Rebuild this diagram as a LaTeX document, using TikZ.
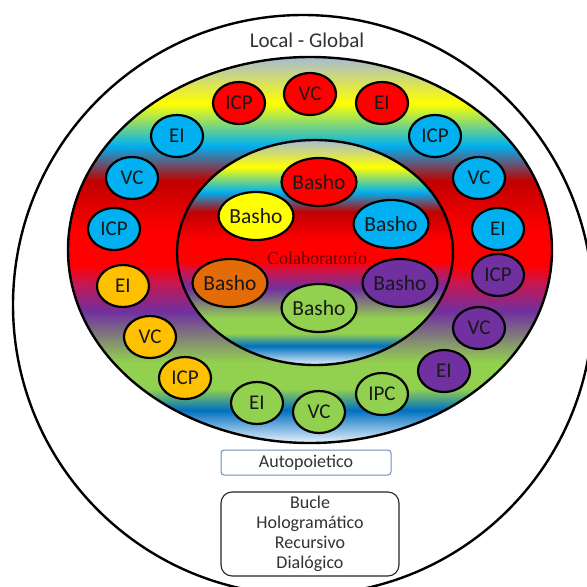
\documentclass[tikz,border=0pt]{standalone}
\usepackage{fontspec}
\setmainfont{Carlito}
\newfontfamily\colabfont{Liberation Serif}
\usetikzlibrary{shapes.geometric}
\definecolor{gTop}{RGB}{166,187,214}
\definecolor{gYel}{RGB}{255,255,0}
\definecolor{gCya}{RGB}{0,176,240}
\definecolor{gDkR}{RGB}{192,0,0}
\definecolor{gRed}{RGB}{255,0,0}
\definecolor{gCri}{RGB}{205,20,75}
\definecolor{gPur}{RGB}{112,48,160}
\definecolor{gGrn}{RGB}{146,208,80}
\definecolor{gBlu}{RGB}{0,112,192}
\definecolor{gWht}{RGB}{235,242,250}
\definecolor{cR}{RGB}{255,0,0}
\definecolor{cB}{RGB}{0,176,240}
\definecolor{cO}{RGB}{255,192,0}
\definecolor{cG}{RGB}{146,208,80}
\definecolor{cP}{RGB}{112,48,160}
\definecolor{cY}{RGB}{255,255,0}
\definecolor{cOr}{RGB}{227,108,9}
\definecolor{txtgray}{RGB}{50,50,50}
\definecolor{boxblue}{RGB}{110,140,190}
\definecolor{colabred}{RGB}{110,0,15}
\pgfdeclareverticalshading{rainbowband}{100bp}{color(0bp)=(gWht); color(25bp)=(gWht); color(29.25bp)=(gBlu); color(32bp)=(gGrn); color(35.5bp)=(gGrn); color(42bp)=(gPur); color(46bp)=(gCri); color(48bp)=(gRed); color(52.5bp)=(gRed); color(59bp)=(gDkR); color(63.5bp)=(gCya); color(69bp)=(gYel); color(75bp)=(gTop); color(100bp)=(gTop)}
\tikzset{
  sm/.style={ellipse, draw=black, line width=2.2pt, minimum width=52pt, minimum height=42pt, inner sep=0pt, font=\fontsize{21}{23}\selectfont, text=black!90},
  bs/.style={ellipse, draw=black, line width=2.2pt, minimum width=70pt, minimum height=48pt, inner sep=0pt, font=\fontsize{21.5}{24}\selectfont, text=black!90},
  bigline/.style={draw=black, line width=2.4pt},
  labeltxt/.style={font=\fontsize{18}{20}\selectfont, text=txtgray, align=center}
}
\begin{document}
\begin{tikzpicture}[x=1pt,y=-1pt]
\useasboundingbox (0,0) rectangle (587,587);
\fill[white] (0,0) rectangle (587,587);
% outer circle
\draw[bigline] (303,305) circle [radius=290];
\node[font=\fontsize{21}{23}\selectfont, text=txtgray] (lg) at (307,40) {Local - Global};
% middle rainbow ellipse
\shadedraw[shading=rainbowband, bigline] (310,250) ellipse [x radius=242, y radius=193];
% inner ellipse
\shadedraw[shading=rainbowband, bigline] (315,252.5) ellipse [x radius=138, y radius=112.5];
% ring circles
\node[sm, fill=cR] (r1) at (239,103) {ICP};
\node[sm, fill=cR] (r2) at (310,94) {VC};
\node[sm, fill=cR] (r3) at (382,103) {EI};
\node[sm, fill=cB] (b1) at (177,136) {EI};
\node[sm, fill=cB] (b2) at (435,136) {ICP};
\node[sm, fill=cB] (b3) at (132,178) {VC};
\node[sm, fill=cB] (b4) at (479,178) {VC};
\node[sm, fill=cB] (b5) at (114,229) {ICP};
\node[sm, fill=cB] (b6) at (498,229) {EI};
\node[sm, fill=cO] (o1) at (123,286) {EI};
\node[sm, fill=cO] (o2) at (150,337) {VC};
\node[sm, fill=cO] (o3) at (185,378) {ICP};
\node[sm, fill=cG] (g1) at (257,403) {EI};
\node[sm, fill=cG] (g2) at (319,412) {VC};
\node[sm, fill=cG] (g3) at (382,394) {IPC};
\node[sm, fill=cP] (p1) at (498,275) {ICP};
\node[sm, fill=cP] (p2) at (479,328) {VC};
\node[sm, fill=cP] (p3) at (444,371) {EI};
% basho
\node[bs, fill=cR] (ba1) at (319,182) {Basho};
\node[bs, fill=cY] (ba2) at (256,216) {Basho};
\node[bs, fill=cB] (ba3) at (391,224) {Basho};
\node[bs, fill=cOr] (ba4) at (230,283) {Basho};
\node[bs, fill=cP] (ba5) at (400,283) {Basho};
\node[bs, fill=cG] (ba6) at (319,308) {Basho};
\node[font=\colabfont\fontsize{18}{20}\selectfont, text=colabred] (colab) at (317,258) {Colaboratorio};
% boxes
\node[draw=boxblue, line width=1pt, rounded corners=3pt, minimum width=170pt, minimum height=25pt, inner sep=0pt, labeltxt, fill=white] (auto) at (306,462.5) {Autopoietico};
\node[draw=black!85, line width=1.1pt, rounded corners=11pt, minimum width=178pt, minimum height=84pt, inner sep=0pt, labeltxt, fill=white] (bucle) at (310,534) {Bucle\\Hologramático\\Recursivo\\Dialógico};
\end{tikzpicture}
\end{document}
